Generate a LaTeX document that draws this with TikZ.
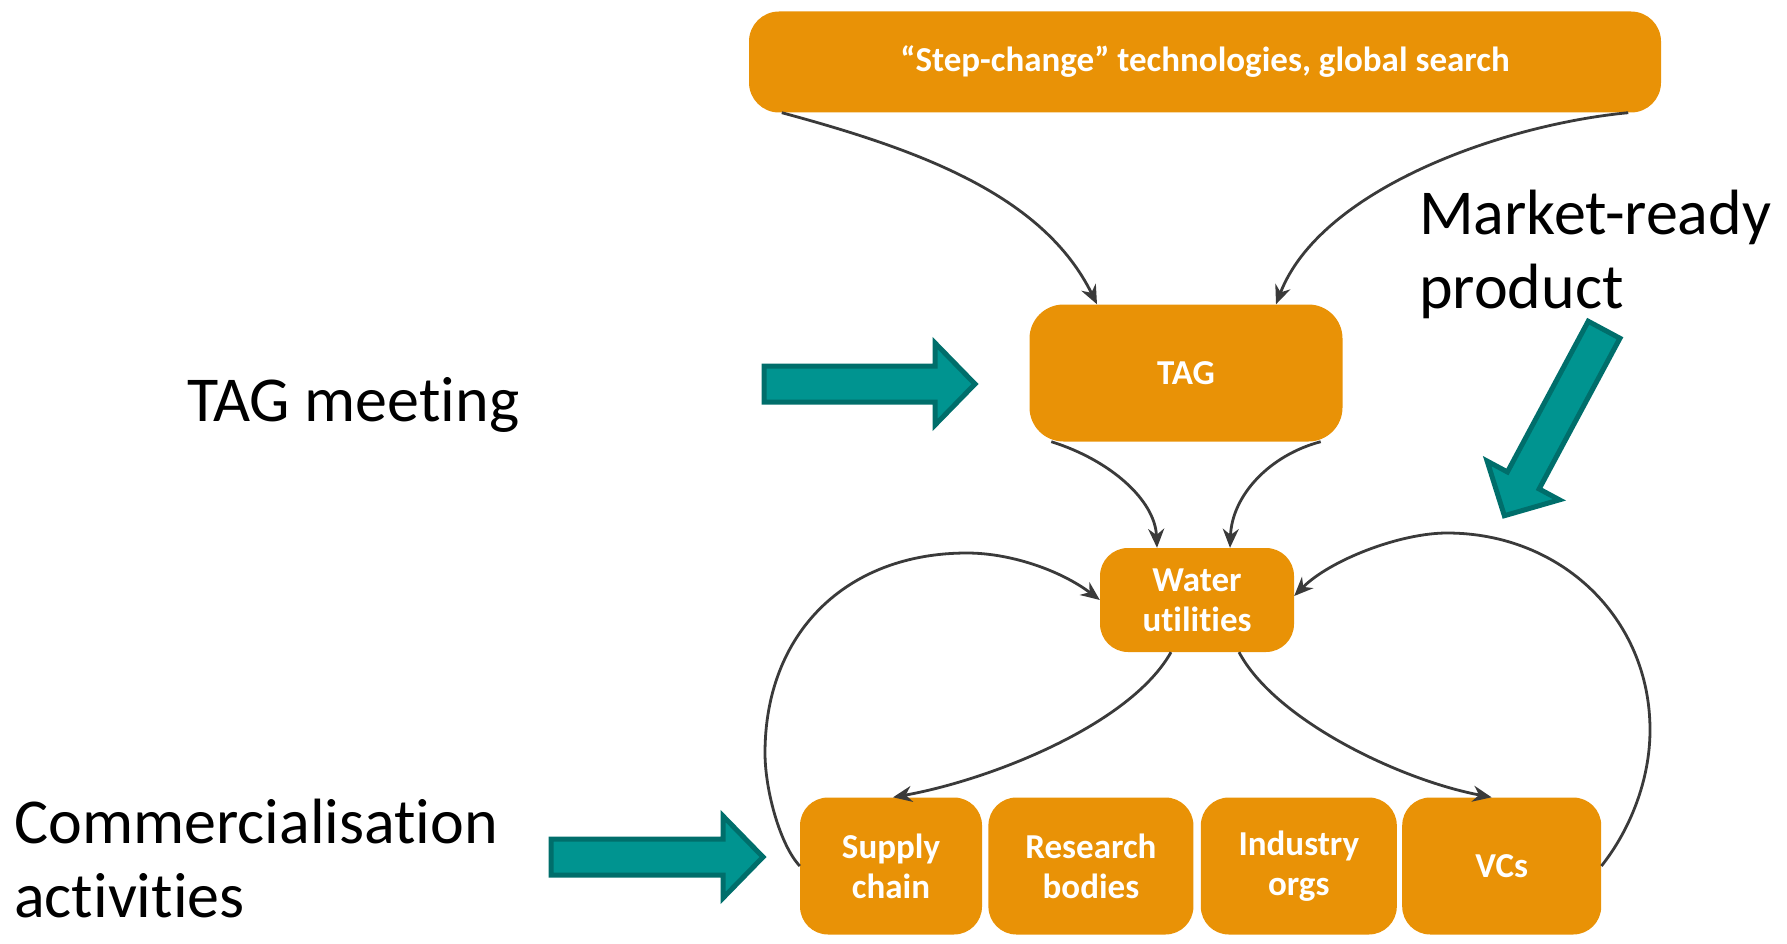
\documentclass[tikz,border=0pt]{standalone}
\usepackage{fontspec}
\setmainfont{Carlito}[Ligatures=NoCommon]
\usetikzlibrary{arrows.meta,positioning}

\definecolor{boxorange}{RGB}{233,146,6}
\definecolor{tealfill}{RGB}{0,148,144}
\definecolor{tealedge}{RGB}{0,110,107}
\definecolor{linegray}{RGB}{58,58,58}

\begin{document}
\begin{tikzpicture}[
    x=1pt, y=-1pt,
    block/.style={fill=boxorange, rectangle, rounded corners=28pt, text=white, font=\fontsize{35}{40}\selectfont\bfseries, align=center, inner sep=0pt},
    member/.style={block, minimum height=137pt},
    note/.style={font=\fontsize{64}{74}\selectfont, align=left, inner sep=0pt},
    arrow/.style={-{Stealth[length=19pt, width=16pt]}, draw=linegray, line width=2.8pt},
    fatarrow/.style={fill=tealfill, draw=tealedge, line width=5pt, line join=miter}
]
\useasboundingbox (0,0) rectangle (1787,944);

% Top box
\node[block, minimum width=912pt, minimum height=101pt, rounded corners=30pt] (search) at (1205,62) {“Step-change” technologies, global search};

% TAG and water utilities
\node[block, minimum width=313pt, minimum height=137pt, rounded corners=34pt] (tag) at (1186,373) {TAG};
\node[block, minimum width=194pt, minimum height=104pt] (water) at (1197,600) {Water\\utilities};

% Bottom row
\node[member, minimum width=182pt] (supply) at (891,866) {Supply\\chain};
\node[member, minimum width=205pt, right=6pt of supply] (research) {Research\\bodies};
\node[member, minimum width=196pt, right=7pt of research] (industry) {Industry\\orgs};
\node[member, minimum width=199pt, right=5pt of industry] (vcs) {VCs};

% Side labels
\node[note, anchor=base west] (meeting) at (187,421) {TAG meeting};
\node[note, anchor=base west] (market) at (1419,308) {Market-ready\\product};
\node[note, anchor=base west] (commerce) at (14,917) {Commercialisation\\activities};

% Block arrows
\begin{scope}[shift={(762,384)}]
  \draw[fatarrow] (2,-18) -- (173,-18) -- (173,-41) -- (213,0) -- (173,41) -- (173,18) -- (2,18) -- cycle;
\end{scope}
\begin{scope}[shift={(549,857)}]
  \draw[fatarrow] (2,-18) -- (174,-18) -- (174,-41) -- (214,0) -- (174,41) -- (174,18) -- (2,18) -- cycle;
\end{scope}
\begin{scope}[shift={(1605,328)}, rotate=-118.2]
  \draw[fatarrow] (2,-18) -- (173,-18) -- (173,-41) -- (213,0) -- (173,41) -- (173,18) -- (2,18) -- cycle;
\end{scope}

% Connectors
\draw[arrow] ([xshift=33pt]search.south west) .. controls (920,150) and (1043,195) .. ([xshift=-89pt]tag.north);
\draw[arrow] ([xshift=-33pt]search.south east) .. controls (1500,125) and (1320,190) .. ([xshift=90pt]tag.north);
\draw[arrow] ([xshift=22pt]tag.south west) .. controls (1110,460) and (1155,500) .. ([xshift=-40pt]water.north);
\draw[arrow] ([xshift=-22pt]tag.south east) .. controls (1270,455) and (1232,495) .. ([xshift=33pt]water.north);
\draw[arrow] ([xshift=-26pt]water.south) .. controls (1130,725) and (990,780) .. ([xshift=2pt]supply.north);
\draw[arrow] ([xshift=42pt]water.south) .. controls (1275,720) and (1400,780) .. ([xshift=-10pt]vcs.north);

% Feedback loops
\draw[arrow] (supply.west) .. controls (780,845) and (765,790) .. (765,753)
    .. controls (765,633) and (846,553) .. (967,553)
    .. controls (1010,553) and (1060,570) .. (water.west);
\draw[arrow] (vcs.east) .. controls (1630,830) and (1650,780) .. (1650,730)
    .. controls (1650,618) and (1561,533) .. (1447,533)
    .. controls (1400,533) and (1330,560) .. ([yshift=4pt]water.east);
\end{tikzpicture}
\end{document}
